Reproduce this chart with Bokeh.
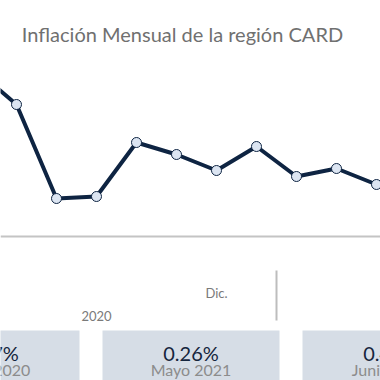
from bokeh.plotting import figure
from bokeh.models import Range1d, Label, BoxAnnotation, Span, ColumnDataSource
from bokeh.embed import file_html
from bokeh.resources import INLINE

# ---- data ----
month_idx = [0, 1, 2, 3, 4, 5, 6, 7, 8, 9, 10]
inflation = [0.83, 0.66, 0.19, 0.20, 0.47, 0.41, 0.33, 0.45, 0.30, 0.34, 0.26]
month_tick_label = "Dic."
month_tick_pos = 6
year_label = "2020"
year_label_pos = 3
year_break = 7.5
card_values = ["0.37%", "0.26%", "0.41%"]
card_labels = ["Junio 2020", "Mayo 2021", "Junio 2021"]

TITLE = "Inflación Mensual de la región CARD"
NAVY = "#0e2442"
FONT = "Lato"

W = H = 380

def gx(px):  # layout pixel -> x data
    return (px + 24) / 40.0

def gy(py):  # layout pixel -> y data
    return (236 - py) / 200.0

p = figure(width=W, height=H, output_backend="svg", toolbar_location=None,
           x_axis_type=None, y_axis_type=None, min_border=0,
           x_range=Range1d(gx(0), gx(W)), y_range=Range1d(gy(H), gy(0)))
p.outline_line_color = None
p.grid.visible = False
p.background_fill_color = "white"
p.border_fill_color = "white"

# baseline of the chart
p.add_layout(Span(location=0, dimension="width", line_color="#c4c4c4", line_width=2))

src = ColumnDataSource(dict(x=month_idx, y=inflation))
p.line("x", "y", source=src, line_color=NAVY, line_width=4, line_join="round")
p.scatter("x", "y", source=src, size=10, fill_color="#dce5f2", line_color=NAVY, line_width=1)

p.add_layout(Label(x=gx(182), y=gy(33), text=TITLE, text_align="center",
                   text_baseline="alphabetic", text_font=FONT, text_font_size="20px",
                   text_color="#707070"))

p.add_layout(Label(x=month_tick_pos, y=gy(292), text=month_tick_label, text_align="center",
                   text_baseline="alphabetic", text_font=FONT, text_font_size="13px",
                   text_color="#7a7a7a"))
p.add_layout(Label(x=year_label_pos, y=gy(315), text=year_label, text_align="center",
                   text_baseline="alphabetic", text_font=FONT, text_font_size="13px",
                   text_color="#7a7a7a"))
p.segment(x0=[year_break], y0=[gy(270)], x1=[year_break], y1=[gy(320)],
          line_color="#bdbdbd", line_width=2)

# KPI cards
card_left = [-98, 102, 302]
card_w = 177
for left, val, lab in zip(card_left, card_values, card_labels):
    p.add_layout(BoxAnnotation(left=gx(left), right=gx(left + card_w), top=gy(330), bottom=gy(400),
                               fill_color="#d6dde6", fill_alpha=1, line_color=None))
    cx = gx(left + card_w / 2)
    p.add_layout(Label(x=cx, y=gy(352), text=val, text_align="center", text_baseline="alphabetic",
                       text_font=FONT, text_font_size="20px", text_color="#15253d"))
    p.add_layout(Label(x=cx, y=gy(369), text=lab, text_align="center", text_baseline="alphabetic",
                       text_font=FONT, text_font_size="16px", text_color="#8c8c8c"))

open("out.html", "w").write(file_html(p, INLINE))
